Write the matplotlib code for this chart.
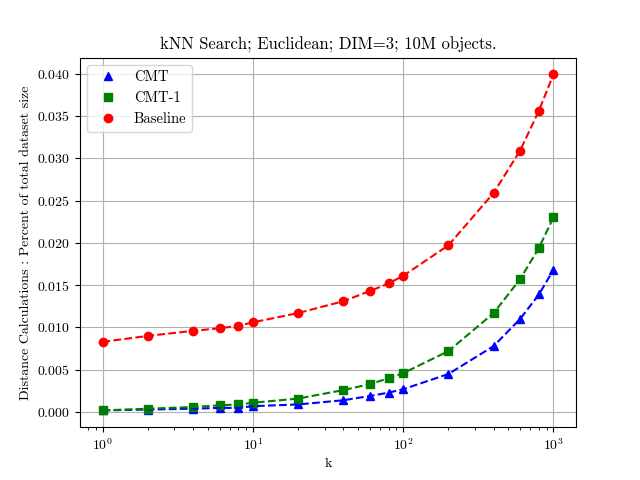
import matplotlib
matplotlib.use('Agg')
import matplotlib.pyplot as plt

plt.rcParams['font.family'] = 'serif'
plt.rcParams['font.serif'] = ['cmr10']
plt.rcParams['mathtext.fontset'] = 'cm'
plt.rcParams['axes.formatter.use_mathtext'] = True

k = [1, 2, 4, 6, 8, 10, 20, 40, 60, 80, 100, 200, 400, 600, 800, 1000]
cmt = [0.0002, 0.0003, 0.0004, 0.0005, 0.0005, 0.0007, 0.0009, 0.0014, 0.0019,
       0.0023, 0.0027, 0.0045, 0.0078, 0.0110, 0.0139, 0.0168]
cmt1 = [0.0002, 0.0004, 0.0006, 0.0008, 0.0009, 0.0011, 0.0016, 0.0026, 0.0033,
        0.0040, 0.0046, 0.0072, 0.0117, 0.0157, 0.0194, 0.0230]
baseline = [0.0083, 0.0090, 0.0096, 0.0099, 0.0102, 0.0106, 0.0117, 0.0131, 0.0143,
            0.0152, 0.0161, 0.0197, 0.0259, 0.0309, 0.0356, 0.0399]

fig, ax = plt.subplots(figsize=(6.4, 4.8), dpi=100)
# markers carry the legend, dashed lines drawn separately
ax.plot(k, cmt, 'b^', label='CMT')
ax.plot(k, cmt1, 'gs', label='CMT-1')
ax.plot(k, baseline, 'ro', label='Baseline')
ax.plot(k, cmt, 'b--')
ax.plot(k, cmt1, 'g--')
ax.plot(k, baseline, 'r--')
ax.set_xscale('log')
ax.grid(True)
ax.set_xlabel('k')
ax.set_ylabel('Distance Calculations : Percent of total dataset size')
ax.set_title('kNN Search; Euclidean; DIM=3; 10M objects.')
ax.legend(loc='upper left', fontsize=10.5)

fig.savefig('out.png')
